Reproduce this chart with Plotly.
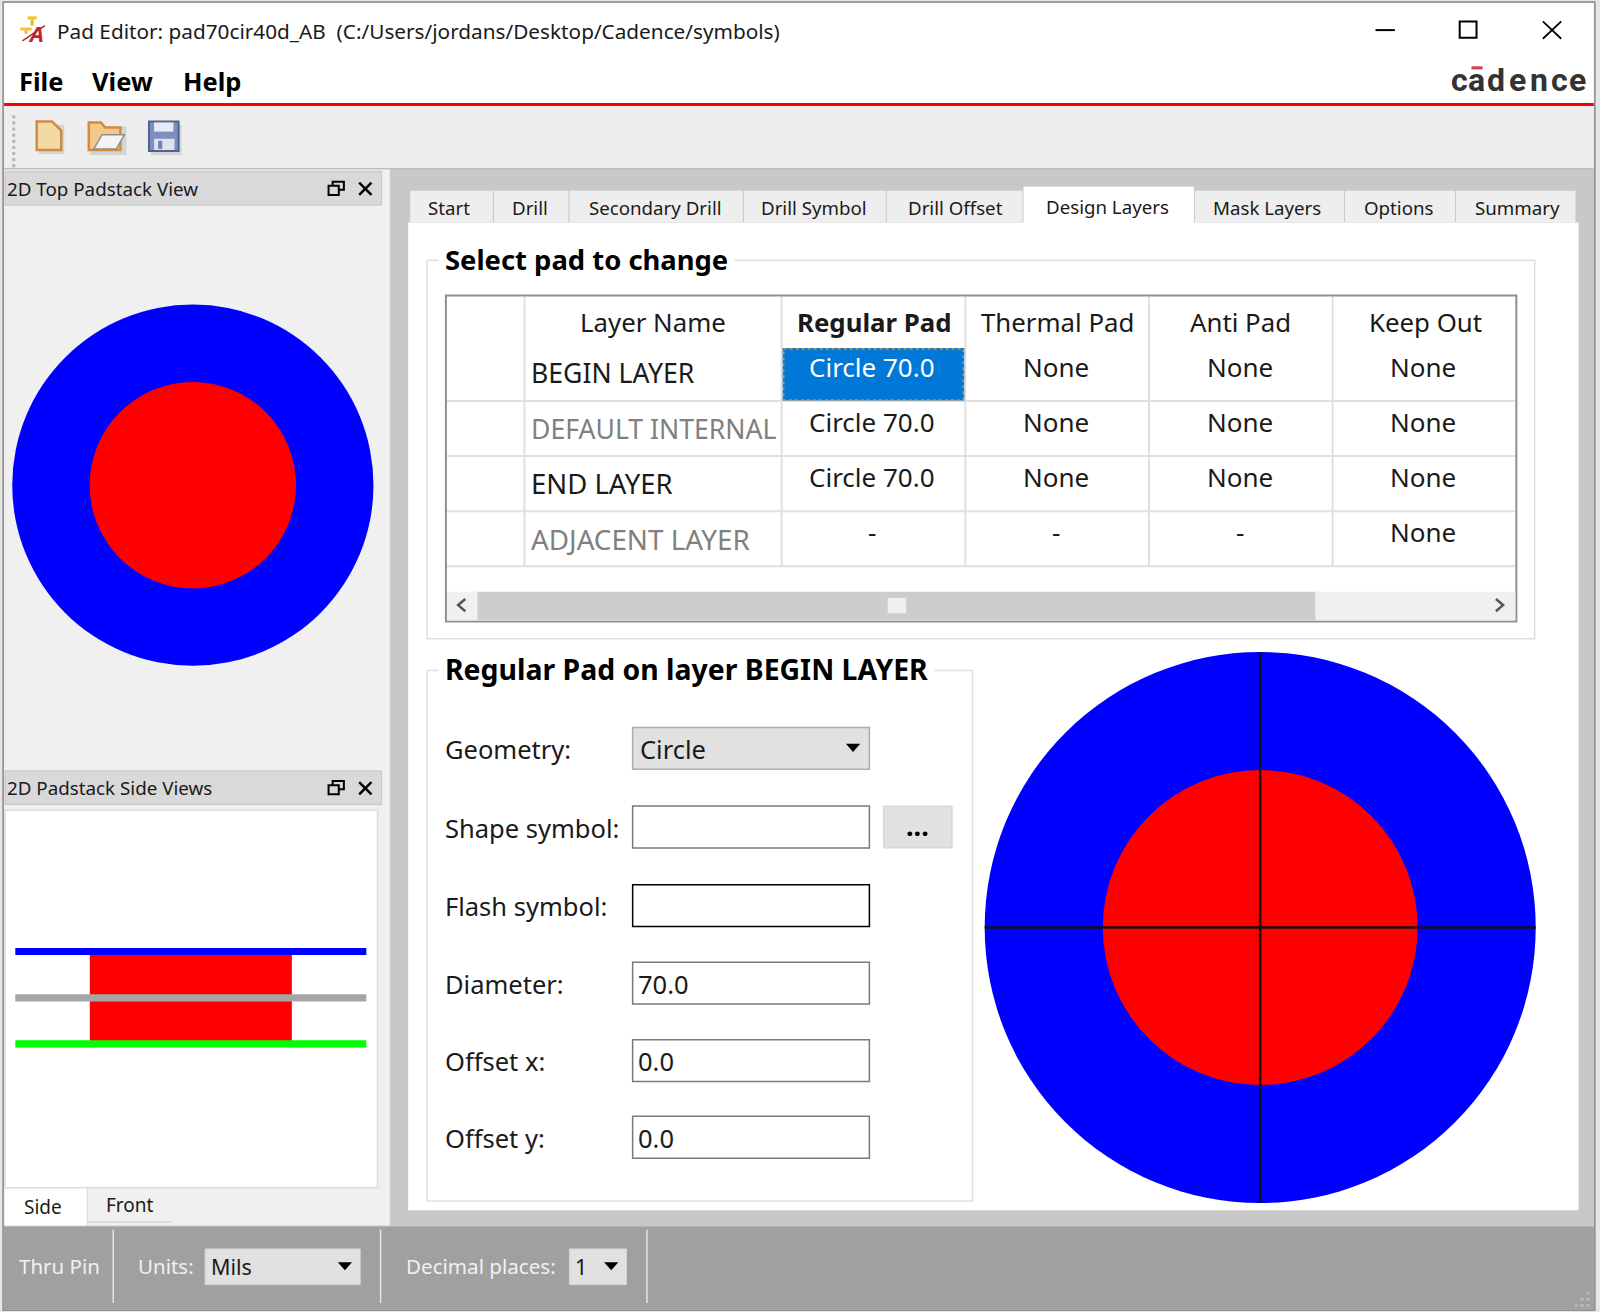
import plotly.graph_objects as go

# window text
window_title = "Pad Editor: pad70cir40d_AB \u00a0(C:/Users/jordans/Desktop/Cadence/symbols)"
menu_items = ["File", "View", "Help"]
logo_letters = list("cadence")
tab_names = ["Start", "Drill", "Secondary Drill", "Drill Symbol", "Drill Offset",
             "Design Layers", "Mask Layers", "Options", "Summary"]

# pad table
table_columns = ["Layer Name", "Regular Pad", "Thermal Pad", "Anti Pad", "Keep Out"]
layer_names = ["BEGIN LAYER", "DEFAULT INTERNAL", "END LAYER", "ADJACENT LAYER"]
regular_pad = ["Circle 70.0", "Circle 70.0", "Circle 70.0", "-"]
thermal_pad = ["None", "None", "None", "-"]
anti_pad = ["None", "None", "None", "-"]
keep_out = ["None", "None", "None", "None"]

# form
form_labels = ["Geometry:", "Shape symbol:", "Flash symbol:", "Diameter:", "Offset x:", "Offset y:"]
form_values = ["Circle", "", "", "70.0", "0.0", "0.0"]
pad_diameter = 70.0
drill_diameter = 40.0

FONT = "Noto Sans"
shapes = []
annotations = []


def rect(x0, y0, x1, y1, fill=None, line=None, lw=1, dash=None):
    shapes.append(dict(type="rect", x0=x0, y0=y0, x1=x1, y1=y1, xref="x", yref="y",
                       fillcolor=fill if fill else "rgba(0,0,0,0)",
                       line=dict(color=line if line else "rgba(0,0,0,0)", width=lw if line else 0,
                                 dash=dash if dash else "solid")))


def seg(x0, y0, x1, y1, color="#000000", lw=1, dash=None):
    shapes.append(dict(type="line", x0=x0, y0=y0, x1=x1, y1=y1, xref="x", yref="y",
                       line=dict(color=color, width=lw, dash=dash if dash else "solid")))


def path(d, fill=None, line=None, lw=1):
    shapes.append(dict(type="path", path=d, xref="x", yref="y",
                       fillcolor=fill if fill else "rgba(0,0,0,0)",
                       line=dict(color=line if line else "rgba(0,0,0,0)", width=lw if line else 0)))


def text(x, y, s, size=23, color="#000000", anchor="left", bold=False, italic=False, font=FONT):
    annotations.append(dict(x=x, y=y, xref="x", yref="y", text=s, showarrow=False,
                            xanchor=anchor, yanchor="middle", borderpad=0,
                            font=dict(family=font, size=size, color=color,
                                      weight="bold" if bold else "normal",
                                      style="italic" if italic else "normal")))


def pad_view(cx, cy, scale, cross=False):
    # blue pad with the red drill on top, sized from the diameters
    for d, c in [(pad_diameter, "#0000ff"), (drill_diameter, "#ff0000")]:
        r = d * scale / 2
        shapes.append(dict(type="circle", x0=cx - r, y0=cy - r, x1=cx + r, y1=cy + r,
                           xref="x", yref="y", fillcolor=c, line=dict(width=0)))
    if cross:
        r = pad_diameter * scale / 2
        seg(cx - r, cy, cx + r, cy, "#101010", 2.5)
        seg(cx, cy - r, cx, cy + r, "#101010", 2.5)


def combo_arrow(x, y):
    path(f"M {x-7} {y-4} L {x+7} {y-4} L {x} {y+4} Z", fill="#000000")


def dock_title(y0, label):
    rect(5, y0, 374, y0 + 33, "#d9d9d9", "#c4c4c4", 1)
    text(6, y0 + 17, label, 18.8, "#1a1a1a")
    # float and close buttons
    rect(326, y0 + 10, 337, y0 + 18, None, "#000000", 2)
    rect(322, y0 + 14, 332, y0 + 23, "#d9d9d9", "#000000", 2)
    seg(352, y0 + 11, 364, y0 + 23, "#000000", 2.5)
    seg(364, y0 + 11, 352, y0 + 23, "#000000", 2.5)


# window frame
rect(0, 0, 1568, 1286, "#e6e6e6")
rect(3, 2, 1563, 1284, "#c8c8c8", "#8c8c8c", 1.5)
rect(4, 3, 1562, 101, "#ffffff")
rect(4, 101, 1562, 104, "#ff0000")
rect(4, 104, 1562, 165, "#eeeeee")
seg(4, 165.5, 1562, 165.5, "#bdbdbd", 1.5)

# title bar
rect(27, 16, 36, 19, "#f4c430")
rect(30, 19, 33, 25, "#e8b820")
rect(20, 27, 31, 30, "#f4c430")
rect(24, 30, 27, 33, "#e8b820")
text(35, 32, "A", 22, "#c8202c", "center", True, True)
path("M 22 40 L 44 25", line="#a83038", lw=1.5)
text(55, 30, window_title, 20.75, "#1a1a1a")
seg(1348, 29.5, 1367, 29.5, "#000000", 2)
rect(1430.5, 21, 1447, 37, None, "#000000", 2)
seg(1512, 21, 1530, 38, "#000000", 1.8)
seg(1530, 21, 1512, 38, "#000000", 1.8)

# menu and logo
for name, x in zip(menu_items, [17.5, 89, 178.5]):
    text(x, 79, name, 25.5, "#000000", bold=True)
for ch, x in zip(logo_letters, [1430, 1447, 1466, 1487, 1508, 1528, 1546]):
    text(x, 78, ch, 32, "#333333", "center", True, font="Roboto")
rect(1442, 65, 1453, 68, "#d9414d")

# toolbar
for y in range(113, 162, 6):
    rect(12, y, 15, y + 3, "#b4b4b4")
rect(38, 122, 63, 151, "#d4d4d4")
path("M 36 119 L 51 119 L 60 128 L 60 147 L 36 147 Z", fill="#f3d9a4", line="#cf8a45", lw=2.5)
rect(88, 124, 124, 152, "#d4d4d4")
path("M 87 147 L 87 120 L 99 120 L 103 125 L 118 125 L 118 147 Z", fill="#f3c88a", line="#d68a3c", lw=2.5)
path("M 92 146 L 100 132 L 122 132 L 114 146 Z", fill="#f4f4f4", line="#8f8f8f", lw=1.5)
rect(148, 122, 178, 152, "#d4d4d4")
rect(146, 119, 175, 148, "#7d8fc0", "#50628f", 2)
rect(151, 120, 170, 129, "#e8ebf4")
rect(151, 136, 171, 147, "#dfe3ee")
rect(155, 138, 159, 146, "#6f82b8")

# left docks
rect(4, 166, 382, 1201, "#f0f0f0")
dock_title(168, "2D Top Padstack View")
pad_view(189, 475.5, 354 / pad_diameter)
dock_title(755.5, "2D Padstack Side Views")
rect(5, 794, 370, 1164, "#ffffff", "#dcdcdc", 1.5)

# side view: drill between the three layer bars
rect(88, 933, 286, 1022, "#ff0000")
for y, c in [(932.5, "#0000ff"), (978, "#a6a6a6"), (1023, "#00ff00")]:
    rect(15, y - 3.5, 359, y + 3.5, c)

rect(5, 1165, 85, 1201, "#ffffff")
text(42, 1183, "Side", 19, "#1a1a1a", "center")
seg(86, 1197.5, 169, 1197.5, "#d8d8d8", 1.5)
seg(85.5, 1165, 85.5, 1201, "#dcdcdc", 1)
text(127, 1181, "Front", 19, "#1a1a1a", "center")

# tabs
tab_edges = [402, 484, 558, 729, 869, 1003, 1171, 1318, 1427, 1545]
tab_centers = [440, 519.5, 642.5, 798, 936, 1085, 1241.5, 1371.5, 1487.5]
rect(400, 218, 1547, 1186, "#ffffff")
for i, name in enumerate(tab_names):
    x0, x1 = tab_edges[i], tab_edges[i + 1]
    active = name == "Design Layers"
    rect(x0, 183 if active else 187, x1 - 1, 222 if active else 218, "#ffffff" if active else "#eeeeee")
    text(tab_centers[i], 202 if active else 203, name, 18.7, "#1a1a1a", "center")

# group boxes
rect(418.5, 255, 1504, 626, None, "#e0e0e0", 1.5)
rect(430, 240, 720, 270, "#ffffff")
text(435, 254, "Select pad to change", 27.4, "#000000", bold=True)
rect(418.5, 657, 953, 1177, None, "#e0e0e0", 1.5)
rect(430, 640, 916, 672, "#ffffff")
text(435, 656, "Regular Pad on layer BEGIN LAYER", 28.4, "#000000", bold=True)

# table grid
column_edges = [514, 766, 946, 1126, 1306]
row_edges = [393, 447, 501, 555]
for x in column_edges:
    seg(x, 290, x, 555, "#e0e0e0", 2)
for y in row_edges:
    seg(438, y, 1485, y, "#e0e0e0", 2)
rect(437, 289.5, 1486, 609, None, "#8a8f98", 2)

rect(767, 341, 945, 392.5, "#0078d7")
rect(768, 342, 944, 392, None, "#e08a2c", 1.5, "dot")

column_centers = [640, 857, 1036, 1216, 1397]
for i, name in enumerate(table_columns):
    text(column_centers[i], 316, name, 25.8, "#1a1a1a", "center", bold=name == "Regular Pad")

row_y = [366, 420, 474, 528]
row_sizes = [26.6, 26.6, 27.5, 27.8]
for name, y, size in zip(layer_names, row_y, row_sizes):
    grey = name in ("DEFAULT INTERNAL", "ADJACENT LAYER")
    text(519, y, name, size, "#808080" if grey else "#1a1a1a")

cell_centers = [855, 1035, 1215, 1395]
for cx, col in zip(cell_centers, [regular_pad, thermal_pad, anti_pad, keep_out]):
    for r, val in enumerate(col):
        selected = cx == 855 and r == 0
        text(cx, row_y[r] - 6.5, val, 26, "#ffffff" if selected else "#1a1a1a", "center")

# table scrollbar
rect(438, 580, 1485, 608, "#f0f0f0")
rect(468, 580, 1289, 608, "#cdcdcd")
rect(870, 586, 888, 601, "#f0f0f0")
path("M 456 587 L 449 593 L 456 599", line="#555555", lw=2.5)
path("M 1466 587 L 1473 593 L 1466 599", line="#555555", lw=2.5)

# form
form_y = [734, 811, 888, 964, 1040, 1115]
box_tops = [713, 790, 867, 943, 1019, 1094]
for i, label in enumerate(form_labels):
    text(435, form_y[i], label, 25.5, "#1a1a1a")
    top = box_tops[i]
    if i == 0:
        rect(620, top, 852, top + 41, "#e1e1e1", "#adadad", 1.5)
        combo_arrow(836, top + 20)
        text(626, form_y[i], form_values[i], 25.5, "#1a1a1a")
    else:
        rect(620, top, 852, top + 41, "#ffffff", "#000000" if i == 2 else "#7a7a7a", 1.5)
        text(624, form_y[i], form_values[i], 25.5, "#1a1a1a")
rect(866, 790, 933, 831, "#e1e1e1", "#d0d0d0", 1)
text(899, 809, "...", 27, "#000000", "center", bold=True)

pad_view(1235, 909, 540 / pad_diameter, cross=True)

# status bar
rect(4, 1202, 1562, 1283, "#a0a0a0")
for x in [111, 373, 634]:
    seg(x, 1205, x, 1277, "#e4e4e4", 1.5)
text(17.5, 1241, "Thru Pin", 20.5, "#f0f0f0")
text(134, 1241, "Units:", 20.5, "#f0f0f0")
rect(201, 1224, 353, 1259, "#e1e1e1", "#d4d4d4", 1)
text(206, 1241, "Mils", 21.5, "#1a1a1a")
combo_arrow(338, 1241)
text(397, 1241, "Decimal places:", 20.6, "#f0f0f0")
rect(558, 1224, 614, 1259, "#e1e1e1", "#d4d4d4", 1)
text(563, 1241, "1", 21.5, "#1a1a1a")
combo_arrow(599, 1241)
for x, y in [(1555, 1266), (1555, 1272), (1549, 1272), (1555, 1278), (1549, 1278), (1543, 1278)]:
    rect(x, y, x + 3, y + 3, "#b8b8b8")

fig = go.Figure()
fig.update_layout(
    width=1600, height=1312,
    margin=dict(l=0, r=0, t=0, b=0),
    paper_bgcolor="#ffffff", plot_bgcolor="#ffffff",
    showlegend=False,
    xaxis=dict(range=[0, 1568], visible=False, fixedrange=True),
    yaxis=dict(range=[1285.8, 0], visible=False, fixedrange=True),
    shapes=shapes,
    annotations=annotations,
)
fig.write_html("out.html", post_script="document.body.style.margin='0';", config=dict(displayModeBar=False))
